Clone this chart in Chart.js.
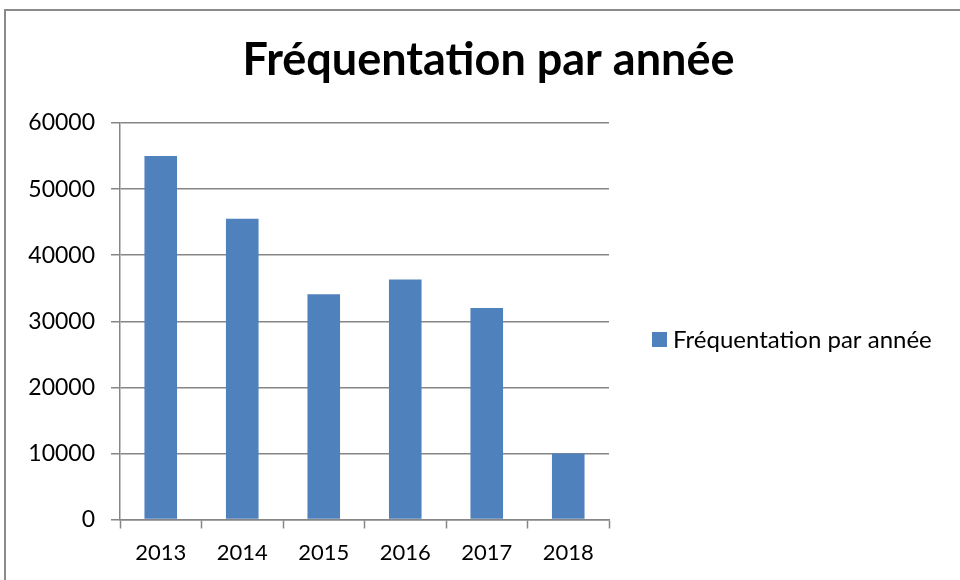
<!DOCTYPE html>
<html>
<head>
<meta charset="utf-8">
<script src="https://cdn.jsdelivr.net/npm/chart.js@4"></script>
<style>
  html, body { margin: 0; padding: 0; background: #fff; }
  #wrap { position: relative; width: 960px; height: 580px; }
</style>
</head>
<body>
<div id="wrap"><canvas id="chart" width="960" height="580"></canvas></div>
<script>
// data
const years = ['2013', '2014', '2015', '2016', '2017', '2018'];
const visitors = [55000, 45500, 34100, 36300, 32000, 10000];
const yTicks = [0, 10000, 20000, 30000, 40000, 50000, 60000];
const seriesName = 'Fréquentation par année';

const gridGray = '#868686';
const barBlue = '#4F81BD';
const fontFamily = 'Lato, "Open Sans", sans-serif';

// outer frame like the spreadsheet chart box
const framePlugin = {
    id: 'frame',
    beforeDraw(chart) {
        const c = chart.ctx;
        c.save();
        c.strokeStyle = '#8a8a8a';
        c.lineWidth = 2;
        c.beginPath();
        c.moveTo(5, chart.height);
        c.lineTo(5, 10);
        c.lineTo(chart.width, 10);
        c.stroke();
        c.restore();
    }
};

// legend drawn by hand: the built-in one gets squeezed on the right
const sideLegend = {
    id: 'sideLegend',
    afterDraw(chart) {
        const c = chart.ctx;
        const ds = chart.data.datasets[0];
        const x = chart.chartArea.right + 43;
        const y = 340;
        c.save();
        c.fillStyle = ds.backgroundColor;
        c.fillRect(x, y - 8, 15, 15);
        c.fillStyle = '#000';
        c.font = '24px ' + fontFamily;
        c.textBaseline = 'middle';
        c.textAlign = 'left';
        c.fillText(ds.label, x + 21, y);
        c.restore();
    }
};

const ctx = document.getElementById('chart');
new Chart(ctx, {
    type: 'bar',
    data: {
        labels: years,
        datasets: [{
            label: seriesName,
            data: visitors,
            backgroundColor: barBlue,
            categoryPercentage: 1,
            barPercentage: 0.4
        }]
    },
    options: {
        responsive: false,
        animation: false,
        layout: {
            padding: { left: 20, right: 3, top: 14, bottom: 15.5 }
        },
        scales: {
            x: {
                afterFit(scale) { scale.height = 45; },
                grid: {
                    offset: true,
                    drawOnChartArea: false,
                    drawTicks: true,
                    tickLength: 9,
                    tickColor: gridGray,
                    tickWidth: 1.5
                },
                border: { color: gridGray, width: 1.5 },
                ticks: {
                    color: '#000',
                    padding: 11,
                    font: { family: fontFamily, size: 22 }
                }
            },
            y: {
                min: 0,
                max: 60000,
                afterBuildTicks(scale) {
                    scale.ticks = yTicks.map(v => ({ value: v }));
                },
                afterFit(scale) { scale.width = 100; },
                grid: {
                    color: gridGray,
                    lineWidth: 1.5,
                    tickLength: 9
                },
                border: { color: gridGray, width: 1.5 },
                ticks: {
                    color: '#000',
                    padding: 16,
                    font: { family: fontFamily, size: 23 },
                    callback: v => String(v)
                }
            },
            // empty axis that only keeps room for the legend
            legendRoom: {
                position: 'right',
                afterFit(scale) { scale.width = 348; },
                grid: { display: false },
                border: { display: false },
                ticks: { display: false }
            }
        },
        plugins: {
            title: {
                display: true,
                text: seriesName,
                color: '#000',
                font: { family: fontFamily, size: 45, weight: 'bold' },
                padding: { top: 19.5, bottom: 35.5 }
            },
            legend: { display: false },
            tooltip: { enabled: false }
        }
    },
    plugins: [framePlugin, sideLegend]
});
</script>
</body>
</html>
